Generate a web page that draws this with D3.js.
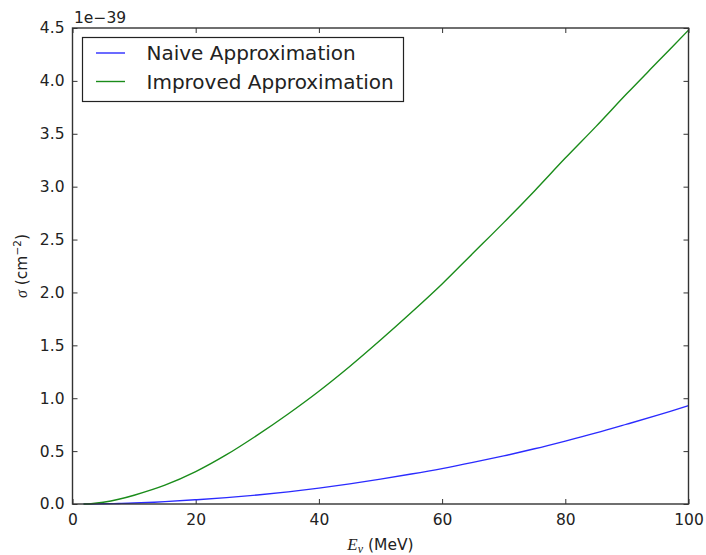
<!DOCTYPE html>
<html>
<head>
<meta charset="utf-8">
<script src="https://cdn.jsdelivr.net/npm/d3@7"></script>
<style>
  html, body { margin: 0; padding: 0; background: #fff; }
  svg { display: block; }
  text { font-family: "DejaVu Sans", sans-serif; fill: #222; }
</style>
</head>
<body>
<svg id="chart" width="706" height="555"></svg>
<script>
// Neutrino energy (MeV)
const energies = [1.8, 3, 5, 7.5, 10, 15, 20, 25, 30, 35, 40, 45, 50, 55, 60, 65, 70, 75, 80, 85, 90, 95, 100];
// Cross sections in units of 1e-39 cm^2
const naiveValues = [0, 0.0005, 0.002, 0.005, 0.009, 0.022, 0.04, 0.06, 0.085, 0.115, 0.15, 0.19, 0.235, 0.283, 0.335, 0.393, 0.455, 0.522, 0.595, 0.672, 0.755, 0.84, 0.93];
const improvedValues = [0, 0.003, 0.017, 0.045, 0.083, 0.178, 0.306, 0.466, 0.651, 0.851, 1.066, 1.30, 1.55, 1.81, 2.08, 2.37, 2.66, 2.96, 3.27, 3.57, 3.88, 4.18, 4.48];
const seriesNames = ["Naive Approximation", "Improved Approximation"];
const seriesColors = ["#2b2bff", "#1a8c1a"];
const xTicks = [0, 20, 40, 60, 80, 100];
const yTicks = [0, 0.5, 1.0, 1.5, 2.0, 2.5, 3.0, 3.5, 4.0, 4.5];

const svg = d3.select("#chart");
const plotLeft = 72.5, plotRight = 688.5, plotTop = 28, plotBottom = 504;

const x = d3.scaleLinear().domain([0, 100]).range([plotLeft, plotRight]);
const y = d3.scaleLinear().domain([0, 4.5]).range([plotBottom, plotTop]);

const tickFont = "15.5px";
const tickLen = 5;

// inward-pointing ticks on all four sides
function axisStyle(g, keepLabels) {
  g.select(".domain").remove();
  g.selectAll(".tick line").attr("stroke", "#333").attr("stroke-width", 1);
  g.selectAll(".tick text").style("font-size", tickFont).attr("fill", "#222");
  if (!keepLabels) g.selectAll(".tick text").remove();
}

svg.append("g").attr("transform", `translate(0,${plotBottom})`)
  .call(d3.axisBottom(x).tickValues(xTicks).tickFormat(d3.format("d")).tickSize(-tickLen).tickPadding(10))
  .call(g => axisStyle(g, true));
svg.append("g").attr("transform", `translate(0,${plotTop})`)
  .call(d3.axisTop(x).tickValues(xTicks).tickSize(-tickLen))
  .call(g => axisStyle(g, false));
svg.append("g").attr("transform", `translate(${plotLeft},0)`)
  .call(d3.axisLeft(y).tickValues(yTicks).tickFormat(d3.format(".1f")).tickSize(-tickLen).tickPadding(8))
  .call(g => axisStyle(g, true));
svg.append("g").attr("transform", `translate(${plotRight},0)`)
  .call(d3.axisRight(y).tickValues(yTicks).tickSize(-tickLen))
  .call(g => axisStyle(g, false));

// curves
const line = d3.line()
  .x(d => x(d[0]))
  .y(d => y(d[1]))
  .curve(d3.curveCatmullRom.alpha(0.5));

[naiveValues, improvedValues].forEach((vals, i) => {
  svg.append("path")
    .datum(energies.map((e, k) => [e, vals[k]]))
    .attr("fill", "none")
    .attr("stroke", seriesColors[i])
    .attr("stroke-width", 1.4)
    .attr("d", line);
});

// frame
svg.append("rect")
  .attr("x", plotLeft).attr("y", plotTop)
  .attr("width", plotRight - plotLeft).attr("height", plotBottom - plotTop)
  .attr("fill", "none").attr("stroke", "#333").attr("stroke-width", 1.4);

// offset text
svg.append("text").attr("x", 74).attr("y", 23)
  .style("font-size", tickFont).text("1e\u221239");

// legend
const lg = svg.append("g");
lg.append("rect").attr("x", 82.5).attr("y", 37.5).attr("width", 321).attr("height", 64)
  .attr("fill", "#fff").attr("stroke", "#222").attr("stroke-width", 1.2);
seriesNames.forEach((name, i) => {
  const cy = 53 + i * 28.5;
  lg.append("line").attr("x1", 96).attr("x2", 125).attr("y1", cy).attr("y2", cy)
    .attr("stroke", seriesColors[i]).attr("stroke-width", 1.4);
  lg.append("text").attr("x", 146.5).attr("y", cy + 7)
    .style("font-size", "20px").text(name);
});

// axis labels
const xl = svg.append("text").attr("x", (plotLeft + plotRight) / 2).attr("y", 550)
  .attr("text-anchor", "middle").style("font-size", tickFont);
xl.append("tspan").style("font-family", "'Liberation Serif', serif").style("font-style", "italic").style("font-size", "17px").text("E");
xl.append("tspan").style("font-family", "'Liberation Serif', serif").style("font-style", "italic").style("font-size", "12px").attr("dy", 3).text("\u03bd");
xl.append("tspan").attr("dy", -3).text(" (MeV)");

const yl = svg.append("text")
  .attr("transform", `translate(27,${(plotTop + plotBottom) / 2}) rotate(-90)`)
  .attr("text-anchor", "middle").style("font-size", tickFont);
yl.append("tspan").style("font-family", "'Liberation Serif', serif").style("font-style", "italic").style("font-size", "16px").text("\u03c3");
yl.append("tspan").text(" (cm");
yl.append("tspan").style("font-size", "10.5px").attr("dy", -6).text("\u22122");
yl.append("tspan").attr("dy", 6).text(")");
</script>
</body>
</html>
